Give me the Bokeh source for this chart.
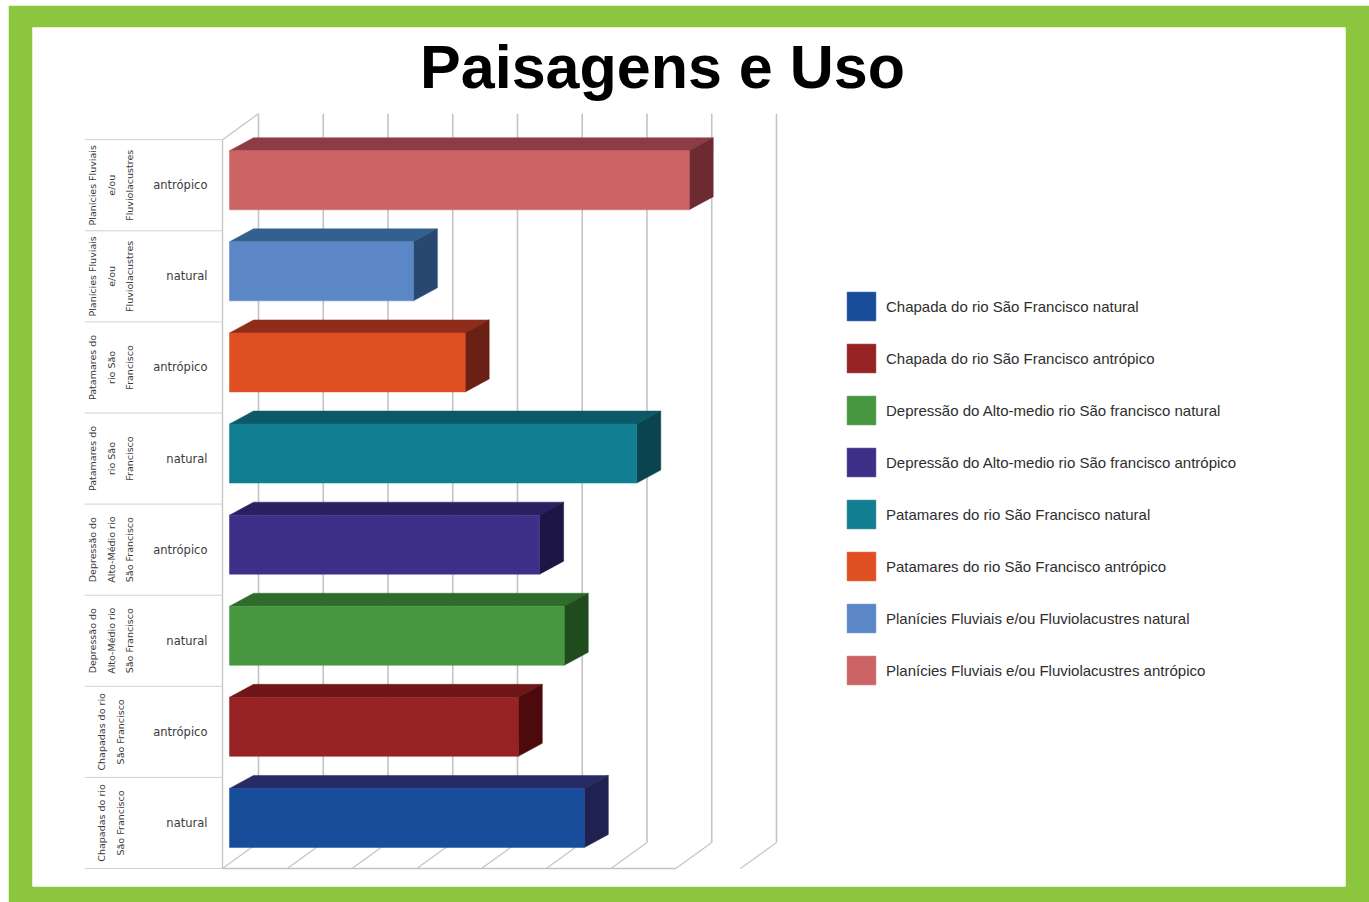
from bokeh.plotting import figure
from bokeh.models import ColumnDataSource, Legend, LegendItem, Label, Range1d
from bokeh.embed import file_html
from bokeh.resources import INLINE
from bokeh.core.properties import value

# ---------------- data (bottom row first) ----------------
group_labels = [
    "Chapadas do rio\nSão Francisco",
    "Chapadas do rio\nSão Francisco",
    "Depressão do\nAlto-Médio rio\nSão Francisco",
    "Depressão do\nAlto-Médio rio\nSão Francisco",
    "Patamares do\nrio São\nFrancisco",
    "Patamares do\nrio São\nFrancisco",
    "Planícies Fluviais\ne/ou\nFluviolacustres",
    "Planícies Fluviais\ne/ou\nFluviolacustres",
]
use_labels = ["natural", "antrópico", "natural", "antrópico",
              "natural", "antrópico", "natural", "antrópico"]
series_names = [
    "Chapada do rio São Francisco natural",
    "Chapada do rio São Francisco antrópico",
    "Depressão do Alto-medio rio São francisco natural",
    "Depressão do Alto-medio rio São francisco antrópico",
    "Patamares do rio São Francisco natural",
    "Patamares do rio São Francisco antrópico",
    "Planícies Fluviais e/ou Fluviolacustres natural",
    "Planícies Fluviais e/ou Fluviolacustres antrópico",
]
values = [5.48, 4.46, 5.17, 4.79, 6.29, 3.64, 2.84, 7.10]
axis_max = 8
title_text = "Paisagens e Uso"

# ---------------- styles ----------------
front_colors = ["#184D9B", "#962224", "#46973F", "#3E2F88",
                "#117E91", "#E04F22", "#5B87C7", "#CC6466"]
top_colors = ["#262B66", "#6E1618", "#2F6B2C", "#2A2060",
              "#0C5A68", "#8E2D19", "#33608F", "#8D3C43"]
side_colors = ["#1F2250", "#4D0A0C", "#1F4B1D", "#1D1644",
               "#0A444F", "#6A2014", "#27496F", "#6E2A31"]
GREEN = "#8CC63F"
GRID = "#C4C4C4"

# ---------------- geometry (pixel scale of the drawing) ----------------
W, H = 1361, 897
BL, BR, BT, BB = 24, 24, 22, 16
FW, FH = W - BL - BR, H - BT - BB
PX_X = 64.75   # px per value unit
PX_Y = 91.1    # px per category row
DX = 36 / PX_X      # wall depth
DY = 26 / PX_Y
BF_X, BF_Y = 7 / PX_X, 5 / PX_Y     # bar front-face offset into depth
BD_X, BD_Y = 24 / PX_X, 13 / PX_Y   # bar depth
HH = 29.5 / PX_Y                    # half height of bar face

x0 = -(190 / PX_X)
x1 = x0 + FW / PX_X
y0 = -0.5 - 18 / PX_Y
y1 = y0 + FH / PX_Y

p = figure(width=W, height=H, output_backend="svg", toolbar_location=None,
           x_range=Range1d(x0, x1), y_range=Range1d(y0, y1),
           x_axis_location=None, y_axis_location=None, title=None,
           min_border_left=BL, min_border_right=BR,
           min_border_top=BT, min_border_bottom=BB)
p.margin = (5, 0, 0, 8)
p.grid.visible = False
p.border_fill_color = GREEN
p.background_fill_color = "white"
p.outline_line_color = None

n = len(values)
ticks = list(range(axis_max + 1))

# back wall gridlines
p.segment(x0=[k + DX for k in ticks], y0=[-0.5 + DY] * len(ticks),
          x1=[k + DX for k in ticks], y1=[n - 0.5 + DY] * len(ticks),
          line_color=GRID, line_width=1.6)
# floor lines
p.segment(x0=[k for k in ticks], y0=[-0.5] * len(ticks),
          x1=[k + DX for k in ticks], y1=[-0.5 + DY] * len(ticks),
          line_color=GRID, line_width=1.2)
# floor front edge + left wall
p.segment(x0=[0, 0, 0], y0=[-0.5, -0.5, n - 0.5],
          x1=[axis_max - 1, 0, DX], y1=[-0.5, n - 0.5, n - 0.5 + DY],
          line_color=GRID, line_width=1.3)
# category separators on the left
p.segment(x0=[-2.13] * (n + 1), y0=[k - 0.5 for k in range(n + 1)],
          x1=[0] * (n + 1), y1=[k - 0.5 for k in range(n + 1)],
          line_color="#D0D0D0", line_width=1)

# bars
lefts, rights, bottoms, tops = [], [], [], []
top_xs, top_ys, side_xs, side_ys = [], [], [], []
for i, v in enumerate(values):
    xa, xb = BF_X, v + BF_X
    ya, yb = i - HH + BF_Y, i + HH + BF_Y
    lefts.append(xa); rights.append(xb); bottoms.append(ya); tops.append(yb)
    top_xs.append([xa, xb, xb + BD_X, xa + BD_X])
    top_ys.append([yb, yb, yb + BD_Y, yb + BD_Y])
    side_xs.append([xb, xb + BD_X, xb + BD_X, xb])
    side_ys.append([ya, ya + BD_Y, yb + BD_Y, yb])

p.patches(xs=top_xs, ys=top_ys, fill_color=top_colors, line_color=top_colors, line_width=0.5)
p.patches(xs=side_xs, ys=side_ys, fill_color=side_colors, line_color=side_colors, line_width=0.5)
front_src = ColumnDataSource(dict(left=lefts, right=rights, bottom=bottoms, top=tops,
                                  color=front_colors, name=series_names))
front = p.quad(left="left", right="right", bottom="bottom", top="top",
               fill_color="color", line_color="color", line_width=0.5, source=front_src)

# category labels
rows = list(range(n))
p.text(x=[-0.232] * n, y=rows, text=use_labels, text_align="right",
       text_baseline="middle", text_font=value("DejaVu Sans"),
       text_font_size="11.5px", text_color="#3A3A3A")
p.text(x=[-1.72] * n, y=rows, text=group_labels, angle=1.5708,
       text_align="center", text_baseline="middle", text_font=value("DejaVu Sans"),
       text_font_size="9.5px", text_color="#3A3A3A", text_line_height=1.7)

# title
p.add_layout(Label(x=630, y=820, x_units="screen", y_units="screen", text=title_text,
                   text_align="center", text_baseline="alphabetic",
                   text_font="Liberation Sans", text_font_style="bold",
                   text_font_size="61px", text_color="#000000"))

# legend
legend = Legend(items=[LegendItem(label=series_names[i], renderers=[front], index=i)
                       for i in range(n)],
                location=(811, 198), glyph_width=36, glyph_height=36, label_height=36,
                spacing=16, label_standoff=7, padding=0, margin=0,
                border_line_color=None, background_fill_alpha=0,
                label_text_font="Liberation Sans", label_text_font_size="15px",
                label_text_color="#2E2E2E")
p.add_layout(legend)

open("out.html", "w").write(file_html(p, INLINE))
